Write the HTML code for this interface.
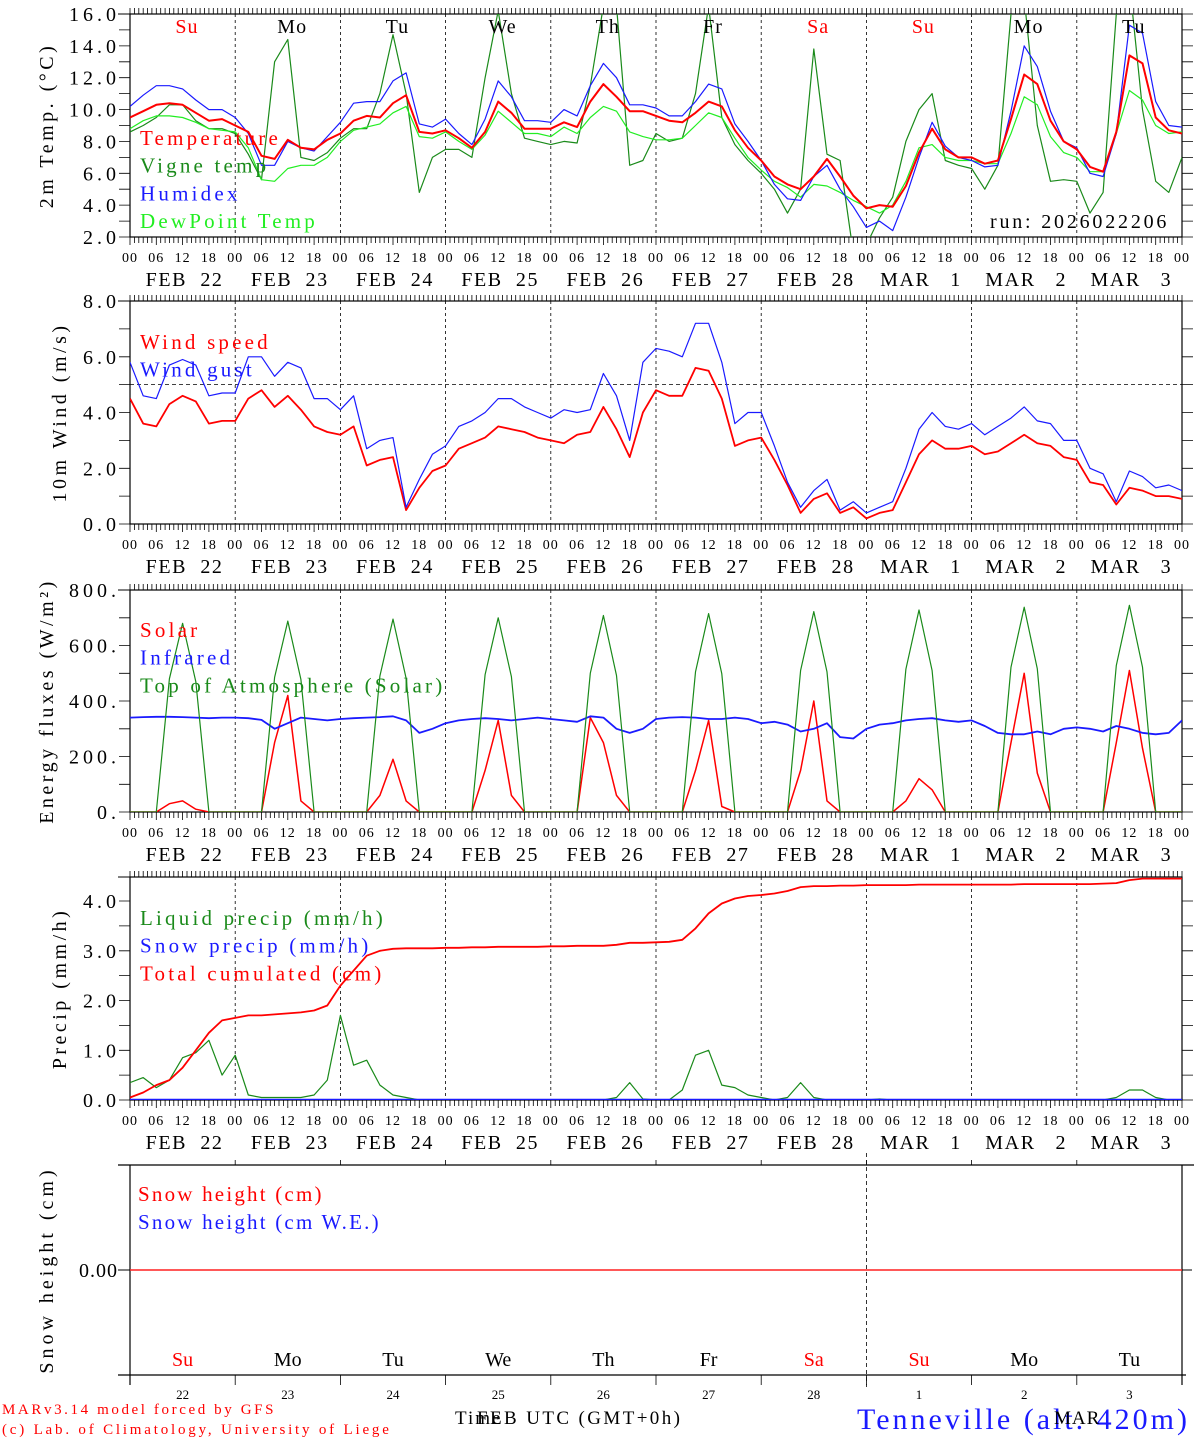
<!DOCTYPE html>
<html><head><meta charset="utf-8"><title>MAR meteogram Tenneville</title>
<style>
html,body{margin:0;padding:0;background:#fff;}
svg{display:block;font-family:"Liberation Serif","DejaVu Serif",serif;}
</style></head>
<body>
<svg id="chart" xmlns="http://www.w3.org/2000/svg" width="1194" height="1440" viewBox="0 0 1194 1440"></svg>
<script>
// ---------- data (3-hourly, FEB 22 00 UTC .. MAR 4 00 UTC) ----------
const dayNames = ["Su","Mo","Tu","We","Th","Fr","Sa","Su","Mo","Tu"];
const dayColors = ["red","black","black","black","black","black","red","red","black","black"];
const dateLabels = ["FEB  22","FEB  23","FEB  24","FEB  25","FEB  26","FEB  27","FEB  28","MAR   1","MAR   2","MAR   3"];
const dateNums = ["22","23","24","25","26","27","28","1","2","3"];
const hourLabels = ["00","06","12","18"];

const tempVals = [9.5,9.9,10.3,10.4,10.3,9.8,9.3,9.4, 9.0,8.6,7.1,6.9,8.1,7.6,7.5,8.1, 8.5,9.3,9.6,9.5,10.4,10.9,8.6,8.5, 8.7,8.2,7.6,8.6,10.5,9.8,8.8,8.8, 8.8,9.2,8.9,10.5,11.6,10.8,9.9,9.9, 9.6,9.3,9.2,9.8,10.5,10.2,8.7,7.6, 6.8,5.8,5.3,5.0,5.8,6.9,5.8,4.6, 3.8,4.0,3.9,5.2,7.3,8.8,7.5,7.0, 7.0,6.6,6.8,9.4,12.2,11.6,9.3,8.0, 7.5,6.4,6.1,8.6,13.4,12.9,9.5,8.7, 8.5];
const vigneVals = [8.6,9.0,9.5,10.3,10.3,9.3,8.8,8.8, 8.5,7.2,5.6,13.0,14.4,7.0,6.8,7.3, 8.2,8.8,8.8,11.0,14.7,11.0,4.8,7.0, 7.5,7.5,7.0,12.0,16.2,11.0,8.2,8.0, 7.8,8.0,7.9,11.5,16.5,16.5,6.5,6.8, 8.5,8.0,8.2,11.0,16.5,9.5,7.8,6.8, 6.0,5.0,3.5,5.0,13.8,7.2,6.8,1.0, 1.5,3.2,4.5,8.0,10.0,11.0,6.8,6.5, 6.3,5.0,6.5,16.0,17.0,9.0,5.5,5.6, 5.5,3.5,4.8,16.0,18.0,10.0,5.5,4.8, 7.0];
const humidexVals = [10.2,10.9,11.5,11.5,11.3,10.6,10.0,10.0, 9.5,8.5,6.5,6.5,8.0,7.6,7.4,8.3, 9.2,10.4,10.5,10.5,11.8,12.3,9.1,8.9, 9.4,8.5,7.8,9.4,11.8,10.8,9.3,9.3, 9.2,10.0,9.6,11.5,12.9,12.0,10.3,10.3, 10.1,9.6,9.6,10.5,11.6,11.3,9.1,8.0, 6.8,5.3,4.4,4.3,5.8,6.5,5.0,3.9, 2.6,3.0,2.4,4.5,7.0,9.2,7.7,7.0, 6.8,6.4,6.5,9.9,14.0,12.7,9.9,8.0, 7.6,6.0,5.8,8.5,15.3,14.8,10.5,9.0, 8.9];
const dewVals = [8.8,9.3,9.6,9.6,9.5,9.2,8.8,8.7, 8.6,7.6,5.6,5.5,6.3,6.5,6.5,7.0, 8.0,8.7,8.9,9.1,9.8,10.2,8.3,8.2, 8.6,8.0,7.5,8.4,9.9,9.2,8.5,8.5, 8.3,8.9,8.5,9.5,10.2,9.9,8.6,8.3, 8.1,8.1,8.2,9.0,9.8,9.5,8.2,7.0, 6.2,5.5,5.1,4.5,5.3,5.2,4.8,4.3, 3.9,3.5,4.0,5.5,7.6,7.8,7.0,6.8, 6.8,6.6,6.6,8.5,10.8,10.3,8.3,7.3, 7.0,6.1,6.1,8.5,11.2,10.6,9.0,8.5, 8.6];

const windVals = [4.5,3.6,3.5,4.3,4.6,4.4,3.6,3.7, 3.7,4.5,4.8,4.2,4.6,4.1,3.5,3.3, 3.2,3.5,2.1,2.3,2.4,0.5,1.3,1.9, 2.1,2.7,2.9,3.1,3.5,3.4,3.3,3.1, 3.0,2.9,3.2,3.3,4.2,3.4,2.4,4.0, 4.8,4.6,4.6,5.6,5.5,4.5,2.8,3.0, 3.1,2.3,1.4,0.4,0.9,1.1,0.4,0.6, 0.2,0.4,0.5,1.5,2.5,3.0,2.7,2.7, 2.8,2.5,2.6,2.9,3.2,2.9,2.8,2.4, 2.3,1.5,1.4,0.7,1.3,1.2,1.0,1.0, 0.9];
const gustVals = [5.8,4.6,4.5,5.7,5.9,5.7,4.6,4.7, 4.7,6.0,6.0,5.3,5.8,5.6,4.5,4.5, 4.1,4.6,2.7,3.0,3.1,0.6,1.6,2.5, 2.8,3.5,3.7,4.0,4.5,4.5,4.2,4.0, 3.8,4.1,4.0,4.1,5.4,4.6,3.0,5.8, 6.3,6.2,6.0,7.2,7.2,5.8,3.6,4.0, 4.0,2.8,1.5,0.6,1.2,1.6,0.5,0.8, 0.4,0.6,0.8,2.0,3.4,4.0,3.5,3.4, 3.6,3.2,3.5,3.8,4.2,3.7,3.6,3.0, 3.0,2.0,1.8,0.8,1.9,1.7,1.3,1.4, 1.2];

const solarVals = [0,0,0,30,40,10,0,0, 0,0,0,250,420,40,0,0, 0,0,0,60,190,40,0,0, 0,0,0,150,330,60,0,0, 0,0,0,340,250,60,0,0, 0,0,0,150,330,20,0,0, 0,0,0,150,400,40,0,0, 0,0,0,40,120,80,0,0, 0,0,0,250,500,140,0,0, 0,0,0,250,510,230,0,0, 0];
const irVals = [340,342,343,343,342,340,338,340, 340,338,332,300,320,340,335,330, 335,338,340,342,345,330,285,300, 320,330,335,338,335,330,335,340, 335,330,325,345,340,300,285,300, 335,340,342,340,335,335,340,335, 320,325,315,290,300,320,270,265, 300,315,320,330,335,338,330,325, 330,310,285,280,280,290,280,300, 305,300,290,310,300,285,280,285, 330];
const toaVals = [0,0,0,480,680,470,0,0, 0,0,0,485,688,478,0,0, 0,0,0,490,695,482,0,0, 0,0,0,495,700,488,0,0, 0,0,0,500,708,492,0,0, 0,0,0,505,715,498,0,0, 0,0,0,510,722,505,0,0, 0,0,0,515,728,510,0,0, 0,0,0,522,738,516,0,0, 0,0,0,528,745,522,0,0, 0];

const liquidVals = [0.35,0.45,0.25,0.4,0.85,0.95,1.2,0.5, 0.9,0.1,0.05,0.05,0.05,0.05,0.1,0.4, 1.7,0.7,0.8,0.3,0.1,0.05,0,0, 0,0,0,0,0,0,0,0, 0,0,0,0,0,0.05,0.35,0.02, 0,0,0.2,0.9,1.0,0.3,0.25,0.1, 0.05,0,0.05,0.35,0.05,0,0,0, 0,0.02,0,0,0,0,0,0, 0,0,0,0,0,0,0,0, 0,0,0,0.05,0.2,0.2,0.05,0, 0];
const snowPrecipVals = new Array(81).fill(0.01);
const cumVals = [0.05,0.15,0.3,0.4,0.65,1.0,1.35,1.6, 1.65,1.7,1.7,1.72,1.74,1.76,1.8,1.9, 2.3,2.6,2.9,3.0,3.04,3.05,3.05,3.05, 3.06,3.06,3.07,3.07,3.08,3.08,3.08,3.08, 3.09,3.09,3.1,3.1,3.1,3.12,3.16,3.16, 3.17,3.18,3.22,3.45,3.75,3.95,4.05,4.1, 4.12,4.15,4.2,4.28,4.3,4.3,4.31,4.31, 4.32,4.32,4.32,4.32,4.33,4.33,4.33,4.33, 4.33,4.33,4.33,4.33,4.34,4.34,4.34,4.34, 4.34,4.34,4.35,4.36,4.42,4.45,4.45,4.45, 4.45];
const snowHeightVals = new Array(81).fill(0);

const tempTicks = ["16.0","14.0","12.0","10.0","8.0","6.0","4.0","2.0"];
const windTicks = ["8.0","6.0","4.0","2.0","0.0"];
const fluxTicks = ["800.","600.","400.","200.","0."];
const precTicks = ["4.0","3.0","2.0","1.0","0.0"];

// ---------- drawing ----------
const NS = "http://www.w3.org/2000/svg";
const svg = document.getElementById("chart");
const X0 = 130, X1 = 1182;
function xH(h){ return X0 + h*(X1-X0)/240; }
function el(tag, attrs, parent){
  const e = document.createElementNS(NS, tag);
  for (const k in attrs) e.setAttribute(k, attrs[k]);
  (parent||svg).appendChild(e);
  return e;
}
function txt(s, x, y, size, color, anchor, parent, ls){
  const t = el("text", {x:x, y:y, "font-size":size, fill:color, "text-anchor":anchor||"start"}, parent);
  if (ls) t.setAttribute("letter-spacing", ls);
  t.style.whiteSpace = "pre";
  t.textContent = s;
  return t;
}
const defs = el("defs", {});

function panel(p){
  const g = el("g", {});
  
  
  const yv = v => p.yb - (v - p.vmin) * (p.yb - p.yt0) / (p.vmax0 - p.vmin);
  const cp = el("clipPath", {id:"clip-"+p.name}, defs);
  el("rect", {x:X0, y:p.top, width:X1-X0, height:p.bottom-p.top}, cp);
  el("rect", {x:X0, y:p.top, width:X1-X0, height:p.bottom-p.top, fill:"none", stroke:"#000", "stroke-width":1.2}, g);
  el("line", {x1:X0-12, y1:p.top, x2:X0, y2:p.top, stroke:"#000"}, g);
  for (let d=1; d<10; d++){
    el("line", {x1:xH(d*24), y1:p.top, x2:xH(d*24), y2:p.bottom, stroke:"#000", "stroke-dasharray":"3,3", "stroke-width":0.8}, g);
  }
  let pd = "";
  for (let h=0; h<=240; h++){
    const x = xH(h).toFixed(1);
    pd += `M${x},${p.top}v-6M${x},${p.bottom}v6`;
    if (h%6===0) pd += `M${x},${p.bottom}v8`;
  }
  el("path", {d:pd, stroke:"#000", "stroke-width":0.8, fill:"none"}, g);
  for (let d=0; d<=10; d++){
    for (let k=0; k<4; k++){
      if (d===10 && k>0) break;
      const t = txt(hourLabels[k], xH(d*24+k*6), p.bottom+25, 14, "#000", "middle", g, 1);
      
      
    }
    if (d<10){
      const t2 = txt(dateLabels[d], xH(d*24+12)+2, p.bottom+49, 20, "#000", "middle", g, 1.6);
      
      
    }
  }
  let yd = "";
  for (let v=p.vmin; v<=p.vmax+1e-9; v+=p.minor){
    const y = yv(v).toFixed(1);
    yd += `M${X0-11},${y}h11M${X1},${y}h11`;
  }
  el("path", {d:yd, stroke:"#000", "stroke-width":0.8, fill:"none"}, g);
  p.ticks.forEach((s,i)=>{
    const v = p.vmax - i*p.major;
    const t = txt(s, X0-10, yv(v)+7, 20, "#000", "end", g, 4);
    
    
  });
  const yt = txt(p.title, 0, 0, 20, "#000", "middle", g, 3.5);
  yt.setAttribute("transform", `translate(${p.titleX},${(p.top+p.bottom)/2}) rotate(-90)`);
  
  
  const sg = el("g", {"clip-path":`url(#clip-${p.name})`}, g);
  if (p.refLine !== undefined){
    el("line", {x1:X0, y1:yv(p.refLine), x2:X1, y2:yv(p.refLine), stroke:"#000", "stroke-dasharray":"4,3", "stroke-width":0.8}, sg);
  }
  p.series.forEach(s=>{
    const pts = s.vals.map((v,i)=> xH(i*3).toFixed(1)+","+yv(v).toFixed(1)).join(" ");
    const pl = el("polyline", {points:pts, fill:"none", stroke:s.color, "stroke-width":s.w, "stroke-linejoin":"round"}, sg);
    
    
  });
  p.series.forEach((s,i)=>{
    if (!s.label) return;
    const t = txt(s.label, p.legX, p.legY + i*27.7, 21, s.color, "start", g, 3.2);
    
    
  });
  return {g, yv};
}

panel({name:"temperature", top:14, bottom:237, yb:237, yt0:14, vmin:2, vmax0:16, vmax:16, major:2, minor:1, ticks:tempTicks,
  title:"2m Temp. (\u00B0C)", titleX:53, legX:140, legY:145,
  series:[
    {name:"vigne-temp", vals:vigneVals, color:"#1a8a1a", w:1.2, label:null},
    {name:"dewpoint", vals:dewVals, color:"#22ee22", w:1.2, label:null},
    {name:"humidex", vals:humidexVals, color:"#1a1aff", w:1.2, label:null},
    {name:"temperature", vals:tempVals, color:"#ff0000", w:2, label:null}
  ]});
[["Temperature","#ff0000"],["Vigne temp","#1a8a1a"],["Humidex","#1a1aff"],["DewPoint Temp","#22ee22"]].forEach((l,i)=>{
  const t = txt(l[0], 140, 145+i*27.7, 21, l[1], "start", null, 3.2);
  
  
});
dayNames.forEach((n,d)=>{
  const t = txt(n, xH(d*24+13), 33, 20, dayColors[d], "middle", null, 1);
  
  
});
const run = txt("run: 2026022206", 990, 228, 20, "#000", "start", null, 2.8);



panel({name:"wind", top:301, bottom:524, yb:524, yt0:301, vmin:0, vmax0:8, vmax:8, major:2, minor:1, ticks:windTicks,
  title:"10m Wind (m/s)", titleX:66, legX:140, legY:349, refLine:5,
  series:[
    {name:"wind-speed", vals:windVals, color:"#ff0000", w:1.8, label:"Wind speed"},
    {name:"wind-gust", vals:gustVals, color:"#1a1aff", w:1.2, label:"Wind gust"}
  ]});

panel({name:"energy", top:590, bottom:812, yb:812, yt0:590, vmin:0, vmax0:800, vmax:800, major:200, minor:100, ticks:fluxTicks,
  title:"Energy fluxes (W/m\u00B2)", titleX:53, legX:140, legY:637,
  series:[
    {name:"solar", vals:solarVals, color:"#ff0000", w:1.5, label:"Solar"},
    {name:"infrared", vals:irVals, color:"#1a1aff", w:1.8, label:"Infrared"},
    {name:"toa-solar", vals:toaVals, color:"#1a8a1a", w:1.2, label:"Top of Atmosphere (Solar)"}
  ]});

panel({name:"precip", top:877, bottom:1100, yb:1100, yt0:901, vmin:0, vmax0:4, vmax:4, major:1, minor:0.5, ticks:precTicks,
  title:"Precip (mm/h)", titleX:66, legX:140, legY:925,
  series:[
    {name:"liquid-precip", vals:liquidVals, color:"#1a8a1a", w:1.2, label:"Liquid precip (mm/h)"},
    {name:"snow-precip", vals:snowPrecipVals, color:"#1a1aff", w:1.5, label:"Snow precip (mm/h)"},
    {name:"total-cumulated", vals:cumVals, color:"#ff0000", w:1.8, label:"Total cumulated (cm)"}
  ]});

(function(){
  const g = el("g", {});
  
  
  const top=1165, bot=1375, y0=1270;
  const yv = v => y0 - v*100;
  el("line", {x1:118, y1:top, x2:1194, y2:top, stroke:"#000", "stroke-width":1.2}, g);
  el("line", {x1:118, y1:bot, x2:1186, y2:bot, stroke:"#000", "stroke-width":1.2}, g);
  el("line", {x1:X0, y1:top, x2:X0, y2:bot+10, stroke:"#000", "stroke-width":1.2}, g);
  el("line", {x1:X1, y1:top, x2:X1, y2:bot+10, stroke:"#000", "stroke-width":1.2}, g);
  let pd="";
  for (let d=1; d<10; d++){ const x=xH(d*24).toFixed(1); pd+=`M${x},${top}v-5M${x},${bot}v10`; }
  el("path", {d:pd, stroke:"#000", "stroke-width":0.8}, g);
  el("line", {x1:xH(168), y1:1153, x2:xH(168), y2:1387, stroke:"#000", "stroke-dasharray":"4,3", "stroke-width":0.8}, g);
  el("line", {x1:X0-12, y1:y0, x2:X0, y2:y0, stroke:"#000"}, g);
  el("line", {x1:X1, y1:y0, x2:X1+10, y2:y0, stroke:"#000"}, g);
  const pts = snowHeightVals.map((v,i)=> xH(i*3).toFixed(1)+","+yv(v).toFixed(1)).join(" ");
  const pl = el("polyline", {points:pts, fill:"none", stroke:"#ff2020", "stroke-width":1.5}, g);
  
  
  const tl = txt("0.00", X0-12, y0+7, 20, "#000", "end", g, 1);
  
  
  const yt = txt("Snow height (cm)", 0, 0, 20, "#000", "middle", g, 4);
  yt.setAttribute("transform", `translate(53,1270) rotate(-90)`);
  
  
  const l1 = txt("Snow height (cm)", 138, 1201, 21, "#ff0000", "start", g, 2.2);
  
  
  const l2 = txt("Snow height (cm W.E.)", 138, 1229, 21, "#1a1aff", "start", g, 2.2);
  
  
  dayNames.forEach((n,d)=>{
    const t = txt(n, xH(d*24+12), 1366, 20, dayColors[d], "middle", g);
    
    
    const t2 = txt(dateNums[d], xH(d*24+12), 1399, 13, "#000", "middle", g);
    
    
  });
})();

const f1 = txt("MARv3.14 model forced by GFS", 2, 1414, 15, "#ff0000", "start", null, 2.6);


const f2 = txt("(c) Lab. of Climatology, University of Liege", 2, 1434, 15, "#ff0000", "start", null, 2.8);


const f3 = txt("Time", 455, 1424, 19, "#000", "start", null, 2);


const f4 = txt("FEB UTC (GMT+0h)", 477, 1424, 19, "#000", "start", null, 2.4);


const f5 = txt("Tenneville (alt. 420m)", 1190, 1429, 30, "#1a1aff", "end", null, 3);


const f6 = txt("MAR", 1054, 1424, 19, "#000", "start", null, 1);


</script>
</body></html>
